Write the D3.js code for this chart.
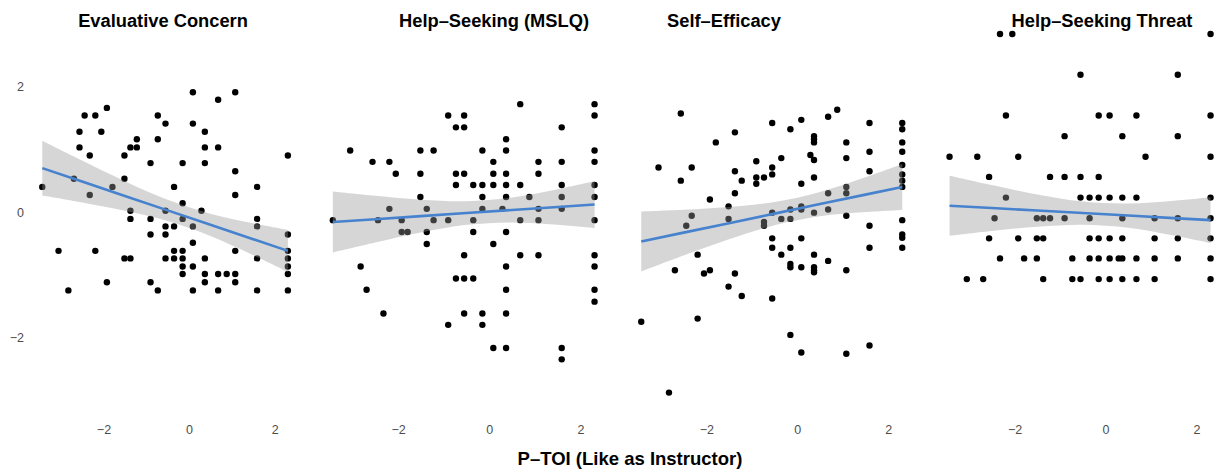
<!DOCTYPE html>
<html>
<head>
<meta charset="utf-8">
<script src="https://cdn.jsdelivr.net/npm/d3@7"></script>
<style>
  html, body { margin: 0; padding: 0; background: #fff; }
  svg { display: block; font-family: "Liberation Sans", Arial, Helvetica, sans-serif; }
</style>
</head>
<body>
<svg id="chart" width="1221" height="469"></svg>
<script>
// Facet titles and axis labels
const facetTitles = ["Evaluative Concern", "Help\u2013Seeking (MSLQ)", "Self\u2013Efficacy", "Help\u2013Seeking Threat"];
const xTicks = [-2, 0, 2];
const yTicks = [-2, 0, 2];
const xAxisTitle = "P\u2013TOI (Like as Instructor)";

// Observations [P-TOI, outcome] per facet
const evalConcern = [
  [-3.43,0.40],
  [0.09,1.91],[1.08,1.91],[0.68,1.79],[-1.92,1.66],
  [-2.44,1.54],[-2.19,1.54],[-0.73,1.54],
  [-0.55,1.41],[0.09,1.41],
  [-2.56,1.28],[-2.05,1.28],[0.37,1.28],
  [-1.22,1.16],[-0.73,1.16],
  [-2.56,1.03],[-1.37,1.03],[-1.22,1.03],[0.37,1.03],[0.68,1.03],
  [-2.32,0.90],[-1.51,0.90],[2.31,0.90],
  [-0.90,0.78],[-0.15,0.78],[0.37,0.78],
  [1.08,0.65],
  [-2.69,0.53],[-1.51,0.53],
  [-1.79,0.40],[-0.35,0.40],[1.59,0.40],
  [-2.32,0.27],[1.08,0.27],
  [-0.15,0.14],
  [-1.37,0.02],[-0.55,0.02],[0.29,0.02],
  [-1.37,-0.11],[-0.90,-0.11],[-0.15,-0.11],[1.59,-0.11],
  [-0.55,-0.23],[-0.35,-0.23],[0.09,-0.23],[1.59,-0.23],
  [-0.90,-0.36],[-0.55,-0.36],[2.31,-0.36],
  [0.09,-0.49],
  [-3.05,-0.62],[-2.19,-0.62],[-0.35,-0.62],[-0.15,-0.62],[1.08,-0.62],[2.31,-0.62],
  [-1.51,-0.74],[-1.37,-0.74],[-0.55,-0.74],[-0.35,-0.74],[-0.15,-0.74],[0.37,-0.74],[1.59,-0.74],[2.31,-0.74],
  [-0.15,-0.87],[0.09,-0.87],[2.31,-0.87],
  [-0.15,-0.99],[0.37,-0.99],[0.68,-0.99],[0.88,-0.99],[1.08,-0.99],[2.31,-0.99],
  [-1.92,-1.12],[-0.90,-1.12],[0.37,-1.12],[1.08,-1.12],
  [-2.82,-1.25],[-0.73,-1.25],[0.09,-1.25],[0.68,-1.25],[1.59,-1.25],[2.31,-1.25]
];

const helpSeekingMSLQ = [
  [-3.43,-0.13],
  [0.68,1.72],[2.31,1.72],
  [-0.90,1.54],[-0.55,1.54],[2.31,1.54],
  [-0.73,1.35],[-0.55,1.35],[1.59,1.35],
  [0.37,1.16],
  [-3.05,0.98],[-1.51,0.98],[-1.22,0.98],[-0.15,0.98],[0.37,0.98],[2.31,0.98],
  [-2.56,0.80],[-2.19,0.80],[0.09,0.80],[1.08,0.80],[1.59,0.80],[2.31,0.80],
  [-2.05,0.61],[-1.51,0.61],[-0.73,0.61],[-0.55,0.61],[0.09,0.61],[0.37,0.61],[1.08,0.61],
  [-0.73,0.43],[-0.35,0.43],[-0.15,0.43],[0.09,0.43],[0.37,0.43],[0.68,0.43],[1.59,0.43],[2.31,0.43],
  [-1.51,0.24],[-0.15,0.24],[0.37,0.24],[0.88,0.24],[1.59,0.24],[2.31,0.24],
  [-2.19,0.05],[-1.37,0.05],[-0.15,0.05],[0.29,0.05],[1.08,0.05],[1.59,0.05],
  [-2.44,-0.13],[-1.92,-0.13],[-1.22,-0.13],[-0.90,-0.13],[-0.35,-0.13],[0.68,-0.13],[1.08,-0.13],[2.31,-0.13],
  [-1.92,-0.32],[-1.79,-0.32],[-1.37,-0.32],[-0.35,-0.32],[0.37,-0.32],
  [-1.37,-0.51],[0.09,-0.51],
  [-0.55,-0.69],[0.68,-0.69],[1.08,-0.69],[2.31,-0.69],
  [-2.82,-0.87],[0.37,-0.87],[2.31,-0.87],
  [-0.73,-1.06],[-0.55,-1.06],[-0.35,-1.06],
  [-2.69,-1.24],[0.37,-1.24],[2.31,-1.24],
  [2.31,-1.43],
  [-2.32,-1.62],[-0.55,-1.62],[-0.15,-1.62],[0.37,-1.62],
  [-0.90,-1.80],[-0.15,-1.80],
  [0.09,-2.17],[0.37,-2.17],[1.59,-2.17],
  [1.59,-2.35]
];

const selfEfficacy = [
  [-3.43,-1.75],[-2.82,-2.88],[-2.56,1.57],[0.88,1.63],[0.68,1.52],
  [-0.55,1.42],[0.09,1.47],[1.59,1.42],[2.31,1.42],
  [-0.15,1.32],[2.31,1.32],
  [-1.37,1.27],
  [0.37,1.21],[0.37,1.16],[0.37,1.11],
  [-1.79,1.11],[1.08,1.11],[2.31,1.11],
  [1.59,0.96],[2.31,0.96],
  [0.29,0.91],[0.37,0.83],
  [-0.35,0.86],[1.08,0.86],
  [-0.90,0.81],
  [-3.05,0.71],[-2.32,0.71],[-0.55,0.71],
  [2.31,0.75],
  [-1.37,0.65],[1.59,0.65],
  [-0.55,0.60],[2.31,0.60],
  [-0.90,0.55],[-0.73,0.55],[0.37,0.55],
  [-2.56,0.50],[-1.22,0.50],[2.31,0.50],
  [-0.90,0.45],[0.09,0.45],
  [1.08,0.40],[2.31,0.40],
  [-1.37,0.30],[0.68,0.30],[1.08,0.30],
  [-1.92,0.20],
  [-1.51,0.09],[0.09,0.09],
  [-0.15,0.04],[0.09,0.04],[0.68,0.04],
  [-2.32,-0.06],[-0.55,-0.01],[0.37,-0.01],[1.08,-0.06],
  [-1.51,-0.11],[-0.35,-0.11],[-0.15,-0.11],
  [-0.73,-0.16],[-0.73,-0.22],[-2.44,-0.22],[1.59,-0.22],
  [2.31,-0.13],[2.31,-0.36],[2.31,-0.41],
  [-0.55,-0.42],[0.09,-0.42],
  [2.31,-0.57],[-0.55,-0.57],[-0.15,-0.57],[1.59,-0.57],
  [-2.19,-0.68],[-0.35,-0.68],[0.37,-0.68],
  [0.68,-0.78],
  [-0.15,-0.83],[-0.15,-0.88],[0.09,-0.88],
  [0.37,-0.88],[0.37,-0.93],[0.37,-0.96],
  [-2.69,-0.93],[-1.92,-0.93],
  [-2.05,-0.98],[-1.37,-0.98],
  [1.08,-0.93],
  [-1.51,-1.19],[-1.22,-1.34],[-0.55,-1.38],
  [-2.19,-1.70],[-0.15,-1.96],[0.09,-2.24],[1.08,-2.26],[1.59,-2.13]
];

const helpSeekingThreat = [
  [-2.32,2.84],[-2.05,2.84],[2.31,2.84],
  [-0.55,2.19],[1.59,2.19],
  [-2.19,1.54],[-0.15,1.54],[0.09,1.54],[0.68,1.54],[2.31,1.54],
  [-0.90,1.21],[0.37,1.21],[1.59,1.21],
  [-3.43,0.88],[-2.82,0.88],[-1.92,0.88],[0.88,0.88],[2.31,0.88],
  [-2.56,0.56],[-1.22,0.56],[-0.90,0.56],[-0.55,0.56],[-0.15,0.56],
  [-2.19,0.23],[-0.55,0.23],[-0.35,0.23],[-0.15,0.23],[0.09,0.23],[0.37,0.23],[0.68,0.23],[2.31,0.23],
  [-2.44,-0.10],[-1.51,-0.10],[-1.37,-0.10],[-1.22,-0.10],[-0.90,-0.10],[-0.35,-0.10],[0.37,-0.10],[1.08,-0.10],[1.59,-0.10],[2.31,-0.10],
  [-2.56,-0.42],[-1.92,-0.42],[-1.51,-0.42],[-1.37,-0.42],[-0.35,-0.42],[-0.15,-0.42],[0.09,-0.42],[0.37,-0.42],[1.08,-0.42],[1.59,-0.42],[2.31,-0.42],
  [-2.32,-0.74],[-1.79,-0.74],[-1.51,-0.74],[-0.73,-0.74],[-0.35,-0.74],[-0.15,-0.74],[0.09,-0.74],[0.29,-0.74],[0.37,-0.74],[0.68,-0.74],[1.08,-0.74],[1.59,-0.74],[2.31,-0.74],
  [-3.05,-1.07],[-2.69,-1.07],[-1.37,-1.07],[-0.73,-1.07],[-0.55,-1.07],[-0.15,-1.07],[0.09,-1.07],[0.37,-1.07],[0.68,-1.07],[1.08,-1.07],[2.31,-1.07]
];

// Linear fit with 95% confidence band, sampled along P-TOI
const fitX = [-3.43, -2.5, -1.5, -0.5, 0.5, 1.5, 2.31];
const fitEvalConcern   = [0.700, 0.486, 0.256, 0.026, -0.204, -0.434, -0.620];
const loEvalConcern    = [0.262, 0.151, 0.020, -0.143, -0.382, -0.688, -0.956];
const hiEvalConcern    = [1.138, 0.821, 0.492, 0.195, -0.026, -0.180, -0.284];
const fitHelpMSLQ      = [-0.160, -0.115, -0.066, -0.017, 0.032, 0.080, 0.120];
const loHelpMSLQ       = [-0.647, -0.488, -0.328, -0.205, -0.166, -0.202, -0.254];
const hiHelpMSLQ       = [0.327, 0.258, 0.196, 0.171, 0.230, 0.362, 0.494];
const fitSelfEfficacy  = [-0.470, -0.329, -0.178, -0.026, 0.126, 0.277, 0.400];
const loSelfEfficacy   = [-0.949, -0.695, -0.436, -0.211, -0.068, -0.001, 0.033];
const hiSelfEfficacy   = [0.009, 0.037, 0.080, 0.159, 0.320, 0.555, 0.767];
const fitHelpThreat    = [0.100, 0.063, 0.023, -0.017, -0.057, -0.097, -0.130];
const loHelpThreat     = [-0.379, -0.303, -0.235, -0.202, -0.251, -0.375, -0.497];
const hiHelpThreat     = [0.579, 0.429, 0.281, 0.168, 0.137, 0.181, 0.237];

const facets = [
  { title: facetTitles[0], points: evalConcern,       fit: fitEvalConcern,  lo: loEvalConcern,  hi: hiEvalConcern },
  { title: facetTitles[1], points: helpSeekingMSLQ,   fit: fitHelpMSLQ,     lo: loHelpMSLQ,     hi: hiHelpMSLQ },
  { title: facetTitles[2], points: selfEfficacy,      fit: fitSelfEfficacy, lo: loSelfEfficacy, hi: hiSelfEfficacy },
  { title: facetTitles[3], points: helpSeekingThreat, fit: fitHelpThreat,   lo: loHelpThreat,   hi: hiHelpThreat }
];

// Panel geometry: pixel span of the observed P-TOI range in each facet
const xDataDomain = [-3.42, 2.32];
const panelSpans = [[42.7, 288.3], [333.3, 595], [641.7, 902.7], [950, 1211]];
const titleCenters = [163, 494, 724, 1102];

const svg = d3.select("#chart");
const y = d3.scaleLinear().domain([-2, 2]).range([337.4, 86.6]);
const fmt = d => (d < 0 ? "\u2212" + Math.abs(d) : String(d));

// Shared y axis on the left
const yAxis = svg.append("g")
  .attr("transform", "translate(24,0)")
  .call(d3.axisLeft(y).tickValues(yTicks).tickSize(0).tickPadding(0).tickFormat(fmt));
yAxis.select(".domain").remove();
yAxis.selectAll("text")
  .attr("fill", "#4d4d4d")
  .style("font-size", "12.5px")
  .style("font-family", "'Liberation Sans', Arial, sans-serif");

facets.forEach((f, i) => {
  const x = d3.scaleLinear().domain(xDataDomain).range(panelSpans[i]);
  const g = svg.append("g");

  // points
  g.append("g").selectAll("circle")
    .data(f.points)
    .join("circle")
    .attr("cx", d => x(d[0]))
    .attr("cy", d => y(d[1]))
    .attr("r", 3.2)
    .attr("fill", "#000");

  const band = fitX.map((v, k) => ({ x: v, lo: f.lo[k], hi: f.hi[k], fit: f.fit[k] }));

  // confidence band
  g.append("path")
    .datum(band)
    .attr("fill", "#999999")
    .attr("fill-opacity", 0.4)
    .attr("d", d3.area()
      .curve(d3.curveCatmullRom)
      .x(d => x(d.x))
      .y0(d => y(d.lo))
      .y1(d => y(d.hi)));

  // fitted line
  g.append("path")
    .datum(band)
    .attr("fill", "none")
    .attr("stroke", "#4682cd")
    .attr("stroke-width", 2.6)
    .attr("d", d3.line().x(d => x(d.x)).y(d => y(d.fit)));

  // x axis
  const xa = g.append("g")
    .attr("transform", "translate(0,425)")
    .call(d3.axisBottom(x).tickValues(xTicks).tickSize(0).tickPadding(0).tickFormat(fmt));
  xa.select(".domain").remove();
  xa.selectAll("text")
    .attr("fill", "#4d4d4d")
    .style("font-size", "12.5px")
    .style("font-family", "'Liberation Sans', Arial, sans-serif");

  // facet title
  g.append("text")
    .attr("x", titleCenters[i])
    .attr("y", 27)
    .attr("text-anchor", "middle")
    .style("font-size", "18.3px")
    .style("font-weight", "bold")
    .attr("fill", "#000")
    .text(f.title);
});

svg.append("text")
  .attr("x", 630)
  .attr("y", 465)
  .attr("text-anchor", "middle")
  .style("font-size", "18.5px")
  .style("font-weight", "bold")
  .attr("fill", "#000")
  .text(xAxisTitle);
</script>
</body>
</html>
